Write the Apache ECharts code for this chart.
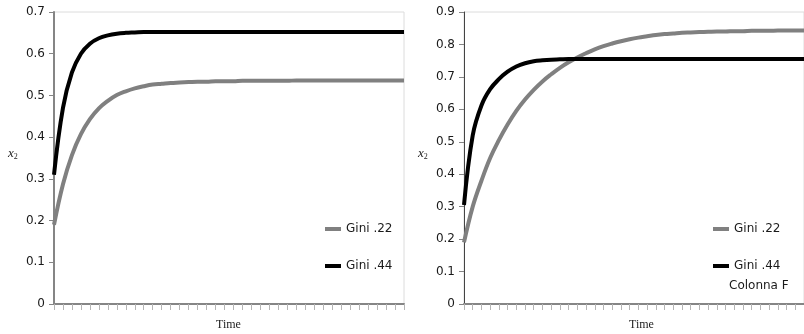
<!DOCTYPE html>
<html>
<head>
<meta charset="utf-8">
<script src="https://cdn.jsdelivr.net/npm/echarts@6/dist/echarts.min.js"></script>
<style>
html,body{margin:0;padding:0;background:#fff;}
#chart{width:804px;height:334px;}
</style>
</head>
<body>
<div id="chart"></div>
<script>
// Time steps (unlabelled category axis)
const timeSteps = [1,2,3,4,5,6,7,8,9,10,11,12,13,14,15,16,17,18,19,20,21,22,23,24,25,26,27,28,29,30,31,32,33,34,35,36,37,38,39,40];

// Left panel
const leftGini22 = [0.19,0.287,0.357,0.407,0.443,0.469,0.487,0.501,0.510,0.517,0.522,0.526,0.528,0.530,0.531,0.532,0.533,0.533,0.534,0.534,0.534,0.535,0.535,0.535,0.535,0.535,0.535,0.536,0.536,0.536,0.536,0.536,0.536,0.536,0.536,0.536,0.536,0.536,0.536,0.536];
const leftGini44 = [0.31,0.47,0.555,0.600,0.624,0.637,0.644,0.648,0.650,0.651,0.652,0.652,0.652,0.652,0.652,0.652,0.652,0.652,0.652,0.652,0.652,0.652,0.652,0.652,0.652,0.652,0.652,0.652,0.652,0.652,0.652,0.652,0.652,0.652,0.652,0.652,0.652,0.652,0.652,0.652];

// Right panel
const rightGini22 = [0.19,0.30,0.38,0.45,0.505,0.553,0.595,0.630,0.660,0.686,0.708,0.728,0.745,0.760,0.773,0.785,0.795,0.803,0.810,0.816,0.821,0.825,0.829,0.832,0.834,0.836,0.837,0.838,0.839,0.840,0.840,0.841,0.841,0.842,0.842,0.842,0.843,0.843,0.843,0.843];
const rightGini44 = [0.305,0.52,0.612,0.662,0.693,0.716,0.732,0.742,0.748,0.751,0.753,0.754,0.755,0.755,0.755,0.755,0.755,0.755,0.755,0.755,0.755,0.755,0.755,0.755,0.755,0.755,0.755,0.755,0.755,0.755,0.755,0.755,0.755,0.755,0.755,0.755,0.755,0.755,0.755,0.755];

const seriesNames = ['Gini .22', 'Gini .44'];
const leftYTicks = { min: 0, max: 0.7, interval: 0.1 };
const rightYTicks = { min: 0, max: 0.9, interval: 0.1 };
const xName = 'Time';
const yNameVar = 'x';
const yNameSub = '2';
const noteText = 'Colonna F';

const GRAY = '#808080';
const BLACK = '#000000';
const SANS = '"DejaVu Sans", sans-serif';
const SERIF = '"Liberation Serif", "DejaVu Serif", serif';

function xAxisCfg(gridIndex) {
  return {
    type: 'category', gridIndex, data: timeSteps, boundaryGap: false,
    axisLine: { show: true, lineStyle: { color: '#858585', width: 2 } },
    axisTick: { show: true, interval: 0, length: 6, lineStyle: { color: '#b5b5b5', width: 1 } },
    axisLabel: { show: false },
    splitLine: { show: false }
  };
}
function yAxisCfg(gridIndex, ticks, lineColor, lineWidth) {
  return {
    type: 'value', gridIndex, min: ticks.min, max: ticks.max, interval: ticks.interval,
    axisLine: { show: true, onZero: false, lineStyle: { color: lineColor, width: lineWidth } },
    axisTick: { show: true, length: 5, lineStyle: { color: '#858585', width: 1 } },
    axisLabel: { margin: 9, fontFamily: SANS, fontSize: 12, color: '#1a1a1a',
      formatter: v => (Math.round(v * 10) / 10).toString() },
    splitLine: { show: false }
  };
}
function lineSeries(name, data, color, idx) {
  return {
    name, type: 'line', data, xAxisIndex: idx, yAxisIndex: idx,
    smooth: 0.4, showSymbol: false, symbol: 'none',
    lineStyle: { color, width: 4, cap: 'butt' }, itemStyle: { color },
    z: color === BLACK ? 3 : 2, animation: false
  };
}
function legendCfg(left) {
  return {
    left, top: 217, orient: 'vertical', data: seriesNames,
    icon: 'rect', itemWidth: 16, itemHeight: 4, itemGap: 23,
    selectedMode: false,
    textStyle: { fontFamily: SANS, fontSize: 12, color: '#1a1a1a', lineHeight: 14 }
  };
}
function yNameGraphic(left) {
  return {
    type: 'text', left, top: 147,
    style: {
      text: '{a|' + yNameVar + '}{b|' + yNameSub + '}',
      rich: {
        a: { fontFamily: SERIF, fontStyle: 'italic', fontSize: 13, lineHeight: 14, fill: '#222', color: '#222' },
        b: { fontFamily: SERIF, fontSize: 8, lineHeight: 8, verticalAlign: 'bottom', fill: '#222', color: '#222' }
      }
    }
  };
}

const chart = echarts.init(document.getElementById('chart'), null, { renderer: 'canvas' });
chart.setOption({
  backgroundColor: '#ffffff',
  animation: false,
  grid: [
    { left: 54, top: 12, width: 350, height: 292, show: true, borderColor: '#dcdcdc', borderWidth: 1, backgroundColor: 'transparent' },
    { left: 464, top: 12, width: 342, height: 292, show: true, borderColor: '#dcdcdc', borderWidth: 1, backgroundColor: 'transparent' }
  ],
  xAxis: [xAxisCfg(0), xAxisCfg(1)],
  yAxis: [yAxisCfg(0, leftYTicks, '#858585', 2), yAxisCfg(1, rightYTicks, '#444', 1)],
  legend: [legendCfg(320), legendCfg(708)],
  series: [
    lineSeries(seriesNames[0], leftGini22, GRAY, 0),
    lineSeries(seriesNames[1], leftGini44, BLACK, 0),
    lineSeries(seriesNames[0], rightGini22, GRAY, 1),
    lineSeries(seriesNames[1], rightGini44, BLACK, 1)
  ],
  graphic: [
    { type: 'text', left: 216, top: 319, style: { text: xName, font: '12px ' + SERIF, fill: '#222' } },
    { type: 'text', left: 629, top: 319, style: { text: xName, font: '12px ' + SERIF, fill: '#222' } },
    yNameGraphic(8),
    yNameGraphic(418),
    { type: 'text', left: 729, top: 280, style: { text: noteText, font: '12px ' + SANS, fill: '#1a1a1a' } }
  ]
});
</script>
</body>
</html>
